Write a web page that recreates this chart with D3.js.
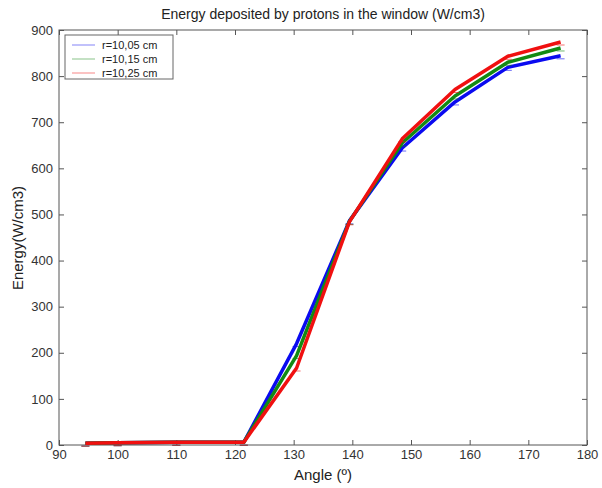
<!DOCTYPE html>
<html>
<head>
<meta charset="utf-8">
<script src="https://cdn.jsdelivr.net/npm/d3@7"></script>
<style>
  body { margin: 0; background: #fff; }
  text { font-family: "Liberation Sans", Arial, sans-serif; }
</style>
</head>
<body>
<div id="container"></div>
<script>
// data
let angles = [94.5, 100, 110, 121.5, 130.5, 139.5, 148.5, 157.5, 166.5, 175.5];
let r1005 = [4, 5, 6, 6, 220, 486, 644, 744, 819, 844];
let r1015 = [4, 5, 6, 6, 194, 485, 655, 757, 830, 861];
let r1025 = [4, 5, 6, 6, 167, 484, 664, 771, 843, 874];
let seriesNames = ["r=10,05 cm", "r=10,15 cm", "r=10,25 cm"];
let seriesColors = ["#0a0af0", "#138a13", "#f01010"];
let xTicks = [90, 100, 110, 120, 130, 140, 150, 160, 170, 180];
let yTicks = [0, 100, 200, 300, 400, 500, 600, 700, 800, 900];

let w = 602;
let h = 488;
let padL = 59, padR = 587, padT = 30, padB = 445;

let viz = d3.select("#container")
  .append("svg")
    .attr("width", w)
    .attr("height", h);

let xScale = d3.scaleLinear().domain([90, 180]).range([padL, padR]);
let yScale = d3.scaleLinear().domain([0, 900]).range([padB, padT]);

// box
viz.append("rect")
  .attr("x", padL).attr("y", padT)
  .attr("width", padR - padL).attr("height", padB - padT)
  .attr("fill", "none").attr("stroke", "#555").attr("stroke-width", 1);

// axes, ticks pointing inward like matlab
let xAxis = d3.axisBottom(xScale).tickValues(xTicks).tickSizeInner(-5).tickSizeOuter(0).tickPadding(4);
let xAxisGroup = viz.append("g").attr("transform", "translate(0," + padB + ")").call(xAxis);
let xTop = viz.append("g").attr("transform", "translate(0," + padT + ")")
  .call(d3.axisTop(xScale).tickValues(xTicks).tickSizeInner(-5).tickSizeOuter(0).tickFormat(""));
let yAxis = d3.axisLeft(yScale).tickValues(yTicks).tickSizeInner(-5).tickSizeOuter(0).tickPadding(6);
let yAxisGroup = viz.append("g").attr("transform", "translate(" + padL + ",0)").call(yAxis);
let yRight = viz.append("g").attr("transform", "translate(" + padR + ",0)")
  .call(d3.axisRight(yScale).tickValues(yTicks).tickSizeInner(-5).tickSizeOuter(0).tickFormat(""));

[xAxisGroup, xTop, yAxisGroup, yRight].forEach(function(g){
  g.select(".domain").remove();
  g.selectAll("line").attr("stroke", "#555");
  g.selectAll("text").attr("font-size", 13).attr("fill", "#333")
    .attr("font-family", "Liberation Sans, Arial, sans-serif");
});
xAxisGroup.selectAll("text").attr("y", 4).attr("dy", "0.8em");

// lines
let allSeries = [r1005, r1015, r1025];
let lineMaker = d3.line()
  .x(function(d, i){ return xScale(angles[i]); })
  .y(function(d){ return yScale(d); });

allSeries.forEach(function(vals, k){
  viz.append("path")
    .datum(vals)
    .attr("d", lineMaker)
    .attr("fill", "none")
    .attr("stroke", seriesColors[k])
    .attr("stroke-width", 3.5)
    .attr("stroke-linejoin", "round");
  // small error bar caps
  viz.append("g").selectAll("line")
    .data(vals)
    .enter()
    .append("line")
      .attr("x1", function(d, i){ return xScale(angles[i]) - 4; })
      .attr("x2", function(d, i){ return xScale(angles[i]) + 4; })
      .attr("y1", function(d){ return yScale(d) + 3; })
      .attr("y2", function(d){ return yScale(d) + 3; })
      .attr("stroke", seriesColors[k])
      .attr("stroke-opacity", 0.6)
      .attr("stroke-width", 1);
});

// legend
let legend = viz.append("g");
legend.append("rect")
  .attr("x", 65).attr("y", 35).attr("width", 108).attr("height", 44)
  .attr("fill", "#fff").attr("stroke", "#666").attr("stroke-width", 1);
seriesNames.forEach(function(name, k){
  let yy = 45 + k * 14;
  legend.append("line")
    .attr("x1", 72).attr("x2", 95).attr("y1", yy).attr("y2", yy)
    .attr("stroke", seriesColors[k]).attr("stroke-opacity", 0.5).attr("stroke-width", 1);
  legend.append("text")
    .attr("x", 102).attr("y", yy + 4)
    .attr("font-size", 11).attr("fill", "#222")
    .text(name);
});

// title and labels
viz.append("text")
  .attr("x", 323).attr("y", 19)
  .attr("text-anchor", "middle").attr("font-size", 14).attr("fill", "#222")
  .text("Energy deposited by protons in the window (W/cm3)");
viz.append("text")
  .attr("x", 323).attr("y", 480)
  .attr("text-anchor", "middle").attr("font-size", 15).attr("fill", "#222")
  .text("Angle (º)");
viz.append("text")
  .attr("transform", "translate(23,238) rotate(-90)")
  .attr("text-anchor", "middle").attr("font-size", 15).attr("fill", "#222")
  .text("Energy(W/cm3)");
</script>
</body>
</html>
